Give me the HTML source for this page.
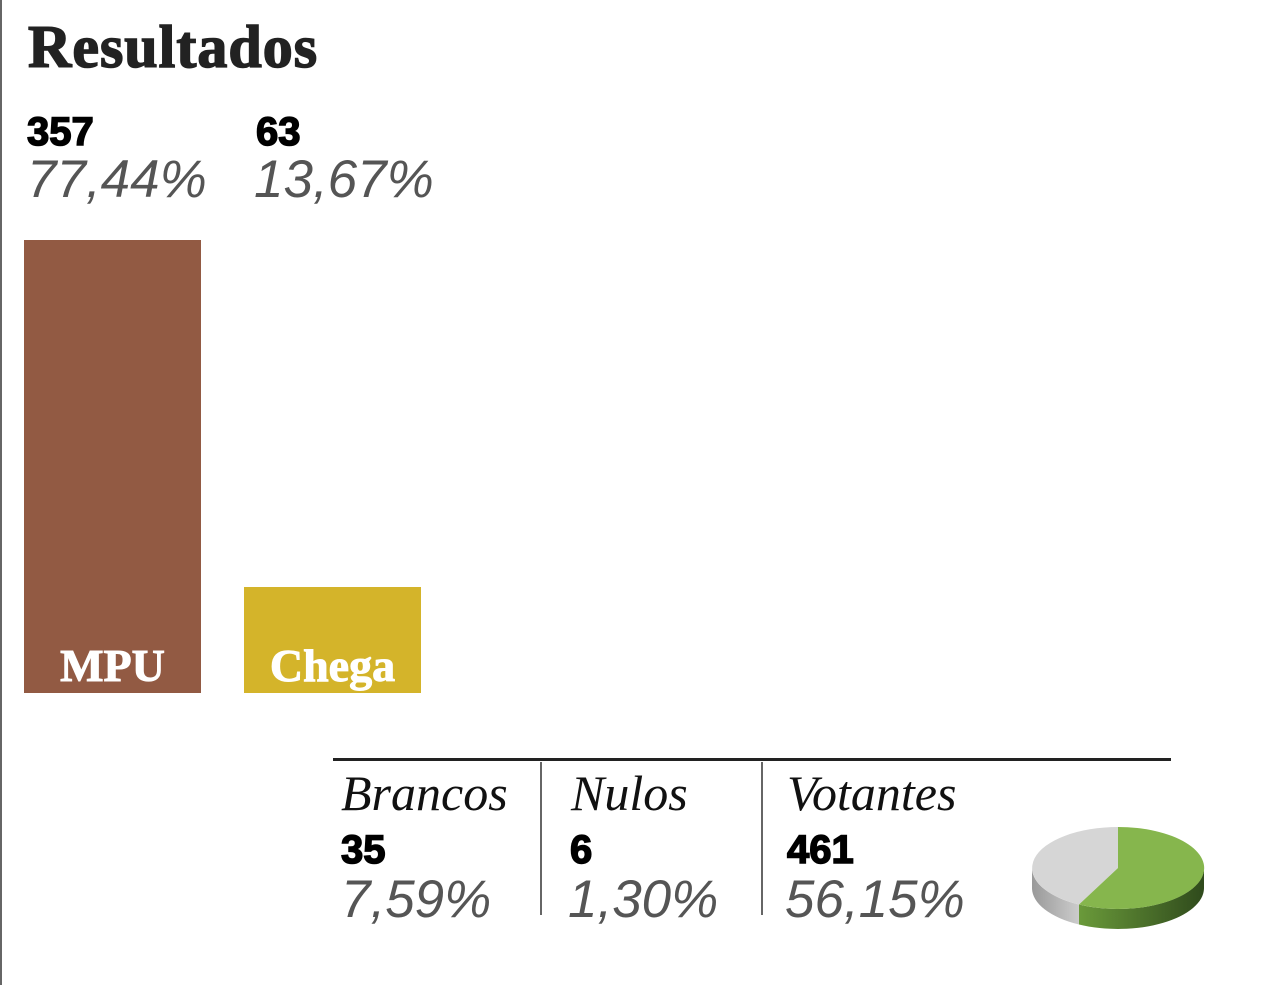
<!DOCTYPE html>
<html><head><meta charset="utf-8"><style>
body{margin:0;width:1283px;height:985px;background:#fff;position:relative;overflow:hidden}
div{position:absolute;line-height:1;white-space:nowrap}
.t{font-family:"Liberation Serif",serif;font-weight:bold;font-size:60px;color:#222;left:28px;top:17px;letter-spacing:1px;-webkit-text-stroke:1.5px #222}
.n{font-family:"Liberation Sans",sans-serif;font-weight:bold;color:#000;font-size:40px;-webkit-text-stroke:1.5px #000}
.p{font-family:"Liberation Sans",sans-serif;font-style:italic;color:#555;font-size:53px}
.h{font-family:"Liberation Serif",serif;font-style:italic;color:#111;font-size:50px}
.bl{font-family:"Liberation Serif",serif;font-weight:bold;color:#fff;font-size:46px;text-align:center;-webkit-text-stroke:1px #fff}
</style></head><body>
<div style="left:0;top:0;width:2px;height:985px;background:#666"></div>
<div class="t">Resultados</div>
<div class="n" style="left:27px;top:112px">357</div>
<div class="p" style="left:27px;top:153px">77,44%</div>
<div class="n" style="left:256px;top:112px">63</div>
<div class="p" style="left:254px;top:153px">13,67%</div>
<div style="left:24px;top:240px;width:177px;height:453px;background:#925a43"></div>
<div style="left:244px;top:587px;width:177px;height:106px;background:#d4b42a"></div>
<div class="bl" style="left:24px;width:177px;top:643px">MPU</div>
<div class="bl" style="left:244px;width:177px;top:643px">Chega</div>
<div style="left:333px;top:758px;width:838px;height:3px;background:#222"></div>
<div style="left:540px;top:762px;width:2px;height:153px;background:#666"></div>
<div style="left:761px;top:762px;width:2px;height:153px;background:#666"></div>
<div class="h" style="left:341px;top:768px">Brancos</div>
<div class="h" style="left:571px;top:768px">Nulos</div>
<div class="h" style="left:787px;top:768px">Votantes</div>
<div class="n" style="left:341px;top:830px">35</div>
<div class="n" style="left:570px;top:830px">6</div>
<div class="n" style="left:787px;top:830px">461</div>
<div class="p" style="left:341px;top:873px">7,59%</div>
<div class="p" style="left:568px;top:873px">1,30%</div>
<div class="p" style="left:785px;top:873px">56,15%</div>
<svg style="position:absolute;left:1020px;top:815px" width="200" height="125" viewBox="1020 815 200 125">
<defs>
<linearGradient id="g1" x1="0" x2="1"><stop offset="0" stop-color="#6a9a3a"/><stop offset="1" stop-color="#2f4a1c"/></linearGradient>
<linearGradient id="g2" x1="0" x2="1"><stop offset="0" stop-color="#999"/><stop offset="1" stop-color="#ccc"/></linearGradient>
</defs>
<path d="M1032 868 L1032 888 A86 41 0 0 0 1079 924.5 L1079 904.5 A86 41 0 0 1 1032 868Z" fill="url(#g2)"/>
<path d="M1079 904.5 L1079 924.5 A86 41 0 0 0 1204 888 L1204 868 A86 41 0 0 1 1079 904.5Z" fill="url(#g1)"/>
<path d="M1118 868 L1118 827 A86 41 0 0 0 1079 904.5Z" fill="#d6d6d6"/>
<path d="M1118 868 L1118 827 A86 41 0 1 1 1079 904.5Z" fill="#86b64d"/>
</svg>
</body></html>
